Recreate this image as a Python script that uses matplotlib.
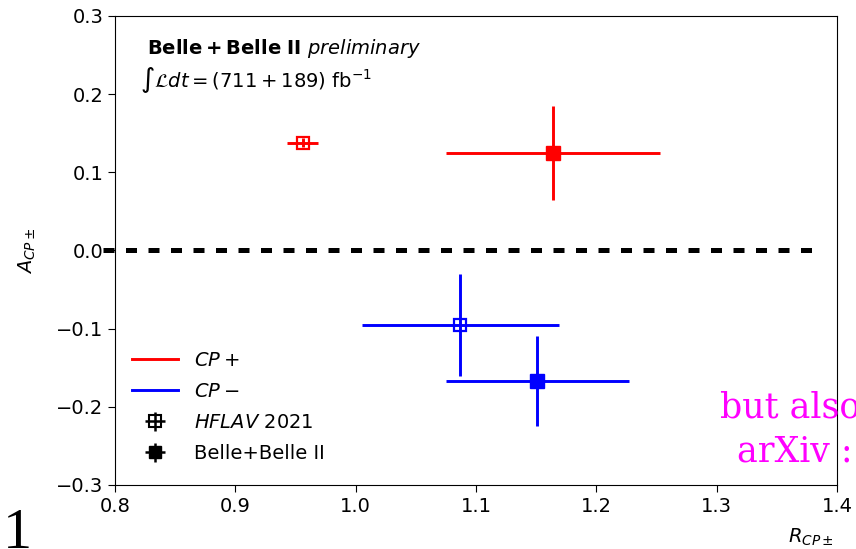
import numpy as np
import matplotlib
matplotlib.use("Agg")
from matplotlib import pyplot as plt

# HFLAV 2021 averages (open markers)
hflav_r = [0.956, 1.087]
hflav_r_err = [0.013, 0.082]
hflav_a = [0.138, -0.095]
hflav_a_err = [0.006, 0.065]

# Belle + Belle II (filled markers)
belle_r = [1.164, 1.151]
belle_r_err = [0.089, 0.076]
belle_a = [0.125, -0.167]
belle_a_err = [0.060, 0.057]

colors = ["red", "blue"]
labels = [r"$CP+$", r"$CP-$"]

x_ticks = [0.8, 0.9, 1.0, 1.1, 1.2, 1.3, 1.4]
y_ticks = [-0.3, -0.2, -0.1, 0.0, 0.1, 0.2, 0.3]

fs = 14
plt.rcParams["font.size"] = fs

fig = plt.figure(figsize=(8.56, 5.49), dpi=100)
ax = fig.add_axes([0.1343, 0.1166, 0.8437, 0.8544])

# zero line
ax.plot([0.79, 1.384], [0, 0], color="black", lw=3.6, dashes=(2.2, 2.3),
        dash_capstyle="butt", clip_on=False, zorder=1)

for i in range(2):
    ax.errorbar(hflav_r[i], hflav_a[i], xerr=hflav_r_err[i], yerr=hflav_a_err[i],
                fmt="s", color=colors[i], mfc="none", mec=colors[i], ms=9, mew=1.6,
                elinewidth=2.1, capsize=0, zorder=3)
    ax.errorbar(belle_r[i], belle_a[i], xerr=belle_r_err[i], yerr=belle_a_err[i],
                fmt="s", color=colors[i], ms=10, elinewidth=2.1, capsize=0, zorder=3)

# legend proxies
h_plus, = ax.plot([], [], color="red", lw=2.1, label=labels[0])
h_minus, = ax.plot([], [], color="blue", lw=2.1, label=labels[1])
h_hflav = ax.errorbar([np.nan], [np.nan], xerr=[0.01], yerr=[0.01], fmt="s", color="black",
                      mfc="none", ms=8, mew=1.5, elinewidth=1.8, capsize=0,
                      label=r"$\mathit{HFLAV}$ 2021")
h_belle = ax.errorbar([np.nan], [np.nan], xerr=[0.01], yerr=[0.01], fmt="s", color="black",
                      ms=9, elinewidth=1.8, capsize=0, label="Belle+Belle II")
ax.legend(handles=[h_plus, h_minus, h_hflav, h_belle], loc="lower left",
          frameon=False, numpoints=1, fontsize=fs, handlelength=2.4,
          labelspacing=0.62, borderaxespad=0, bbox_to_anchor=(0.0125, 0.03))

ax.text(0.044, 0.919, r"$\mathbf{Belle+Belle\ II}$ $\mathit{preliminary}$",
        transform=ax.transAxes, fontsize=fs, va="baseline")
ax.text(0.035, 0.849, r"$\int\mathcal{L}dt = (711 + 189)$ fb$^{-1}$",
        transform=ax.transAxes, fontsize=fs, va="baseline")

ax.set_xlim(0.8, 1.4)
ax.set_ylim(-0.3, 0.3)
ax.set_xticks(x_ticks)
ax.set_yticks(y_ticks)
ax.tick_params(labelsize=fs, length=5)
ax.set_xlabel(r"$R_{CP\pm}$", loc="right", fontsize=fs)
ax.set_ylabel(r"$A_{CP\pm}$", fontsize=fs)
ax.yaxis.set_label_coords(-0.106, 0.5)
ax.xaxis.set_label_coords(0.995, -0.088)

# slide leftovers around the crop
fig.text(3 / 856, 1 / 549, "1", family="Liberation Serif", fontsize=42, va="baseline")
fig.text(720 / 856, 1 - 418 / 549, "but also", family="DejaVu Serif", fontsize=25,
         color="magenta", va="baseline")
fig.text(737 / 856, 1 - 462 / 549, "arXiv : 2", family="DejaVu Serif", fontsize=25,
         color="magenta", va="baseline")
fig.text(774 / 856, 1 + 2 / 549, "(2021)", fontsize=13, va="baseline")

fig.savefig("out.png", dpi=100)
